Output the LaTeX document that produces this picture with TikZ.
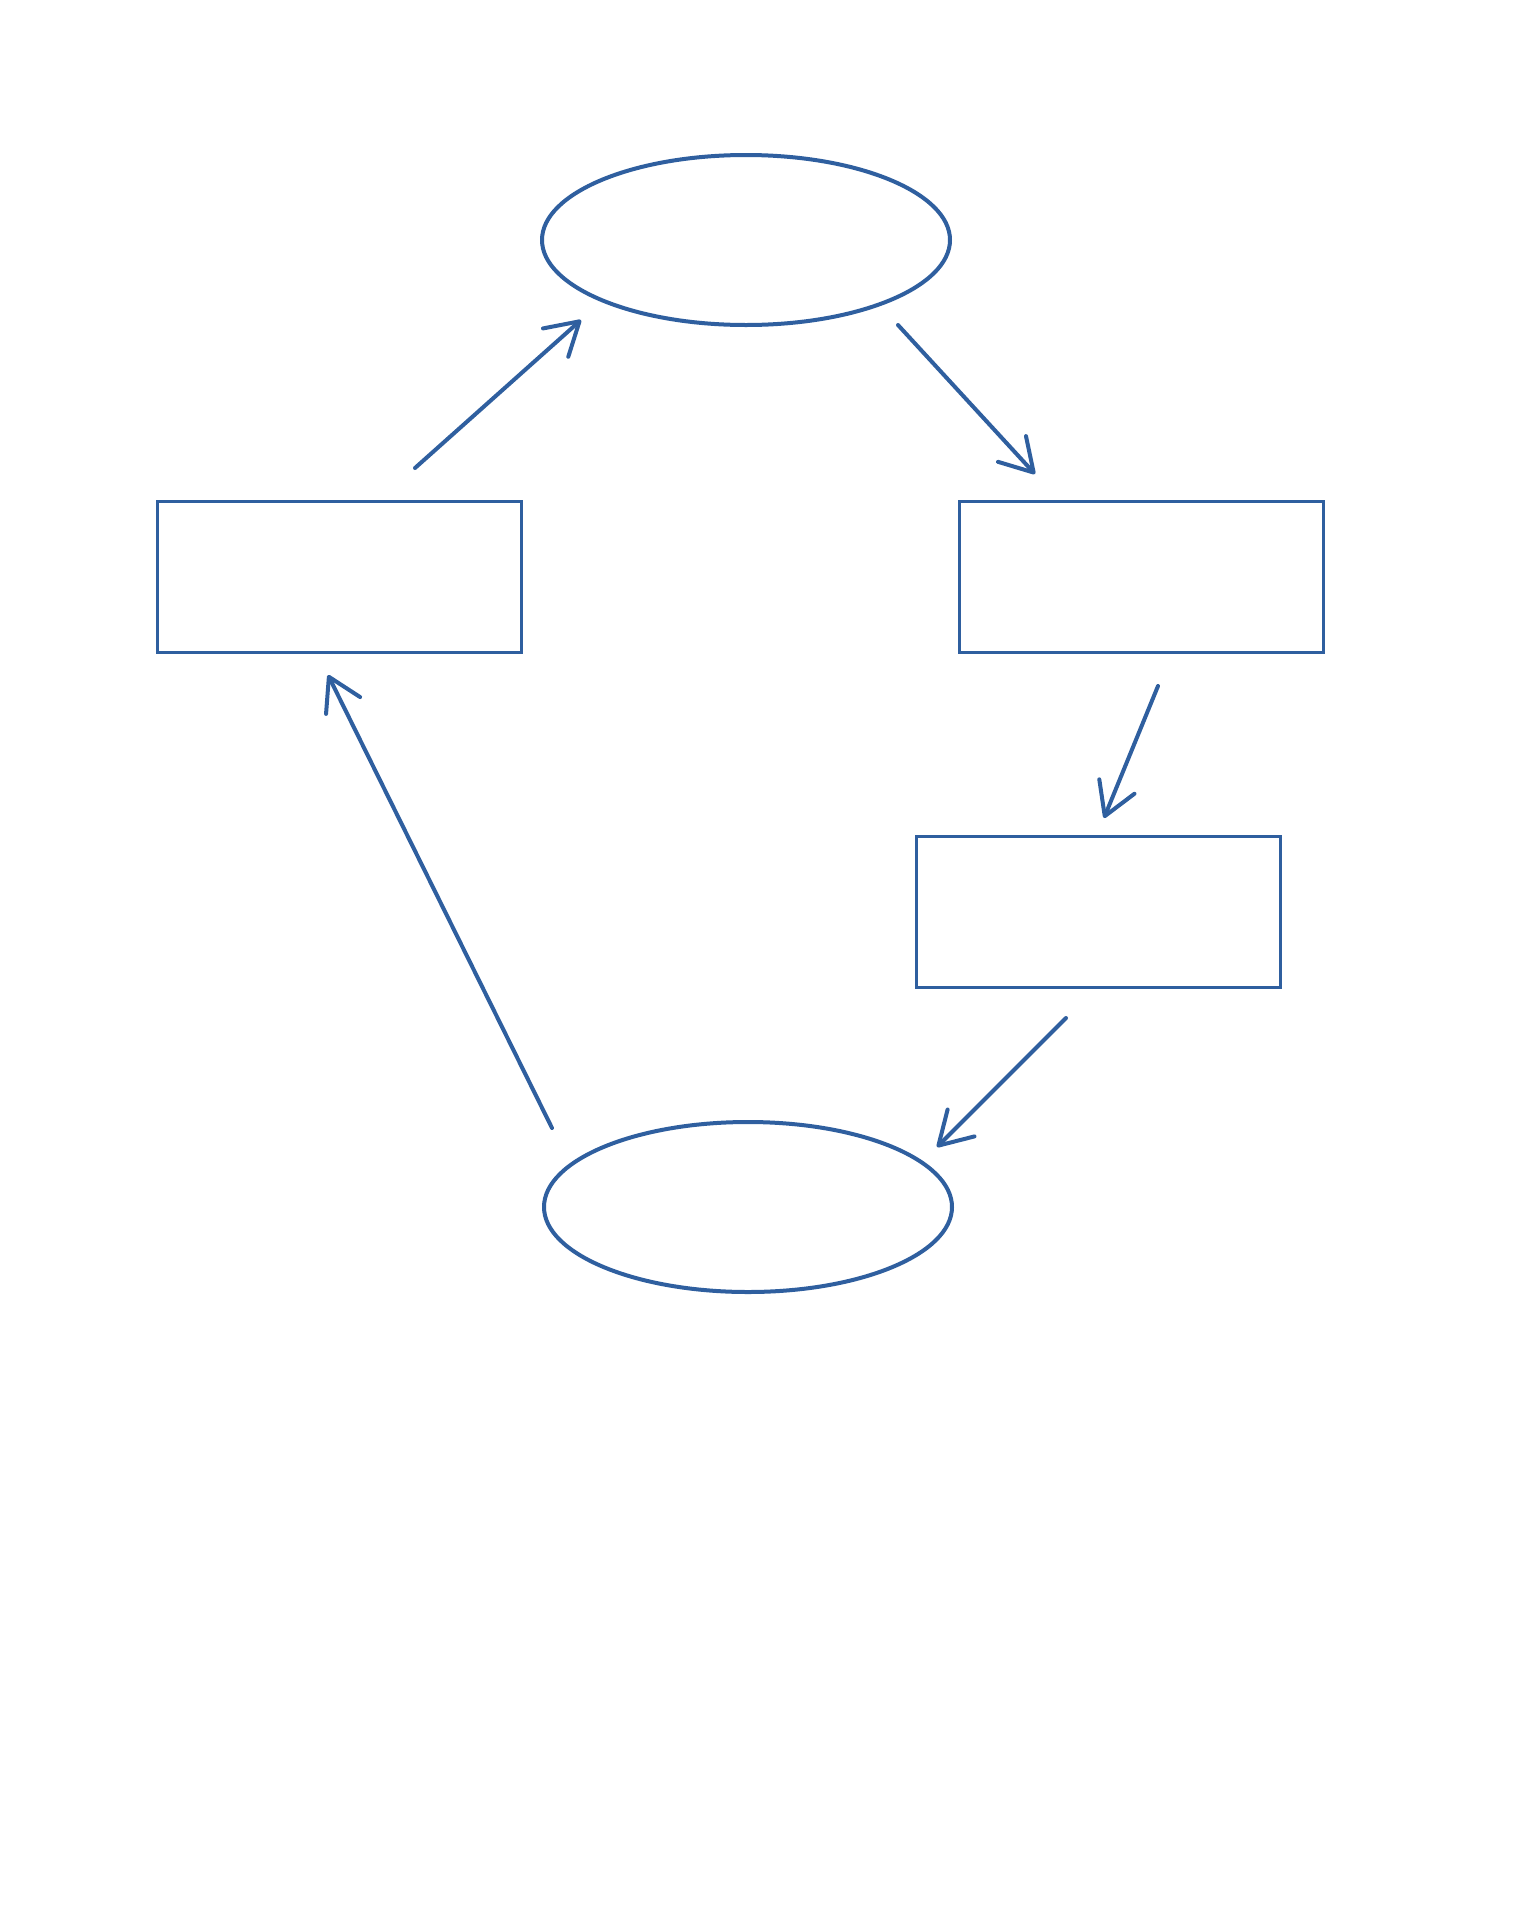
\documentclass[tikz,border=0pt]{standalone}
\usetikzlibrary{shapes.geometric,arrows.meta}
\definecolor{pen}{HTML}{2F5F9F}
\begin{document}
\begin{tikzpicture}[x=1pt,y=-1pt,
  oval/.style={ellipse,draw=pen,line width=4pt,minimum width=408pt,minimum height=170pt,inner sep=0pt},
  box/.style={rectangle,draw=pen,line width=3pt,minimum width=364pt,minimum height=151pt,inner sep=0pt},
  link/.style={draw=pen,line width=4pt,line cap=round,-{Straight Barb[length=32pt,width=38pt,round]}}]
\useasboundingbox (0,0) rectangle (1536,1920);
\fill[white] (0,0) rectangle (1536,1920);
\node[oval] (top) at (746,240) {};
\node[oval] (bot) at (748,1207) {};
\node[box] (left) at (339,576.5) {};
\node[box] (right) at (1141,576.5) {};
\node[box] (mid) at (1098,911.5) {};
\coordinate (a1) at (415,468); \coordinate (a2) at (581,320);
\coordinate (b1) at (898,325); \coordinate (b2) at (1035,474);
\coordinate (c1) at (1158,686); \coordinate (c2) at (1104,818);
\coordinate (d1) at (1066,1018); \coordinate (d2) at (937,1147);
\coordinate (e1) at (552,1128); \coordinate (e2) at (328,675);
\draw[link] (a1) -- (a2);
\draw[link] (b1) -- (b2);
\draw[link] (c1) -- (c2);
\draw[link] (d1) -- (d2);
\draw[link] (e1) -- (e2);
\end{tikzpicture}
\end{document}
